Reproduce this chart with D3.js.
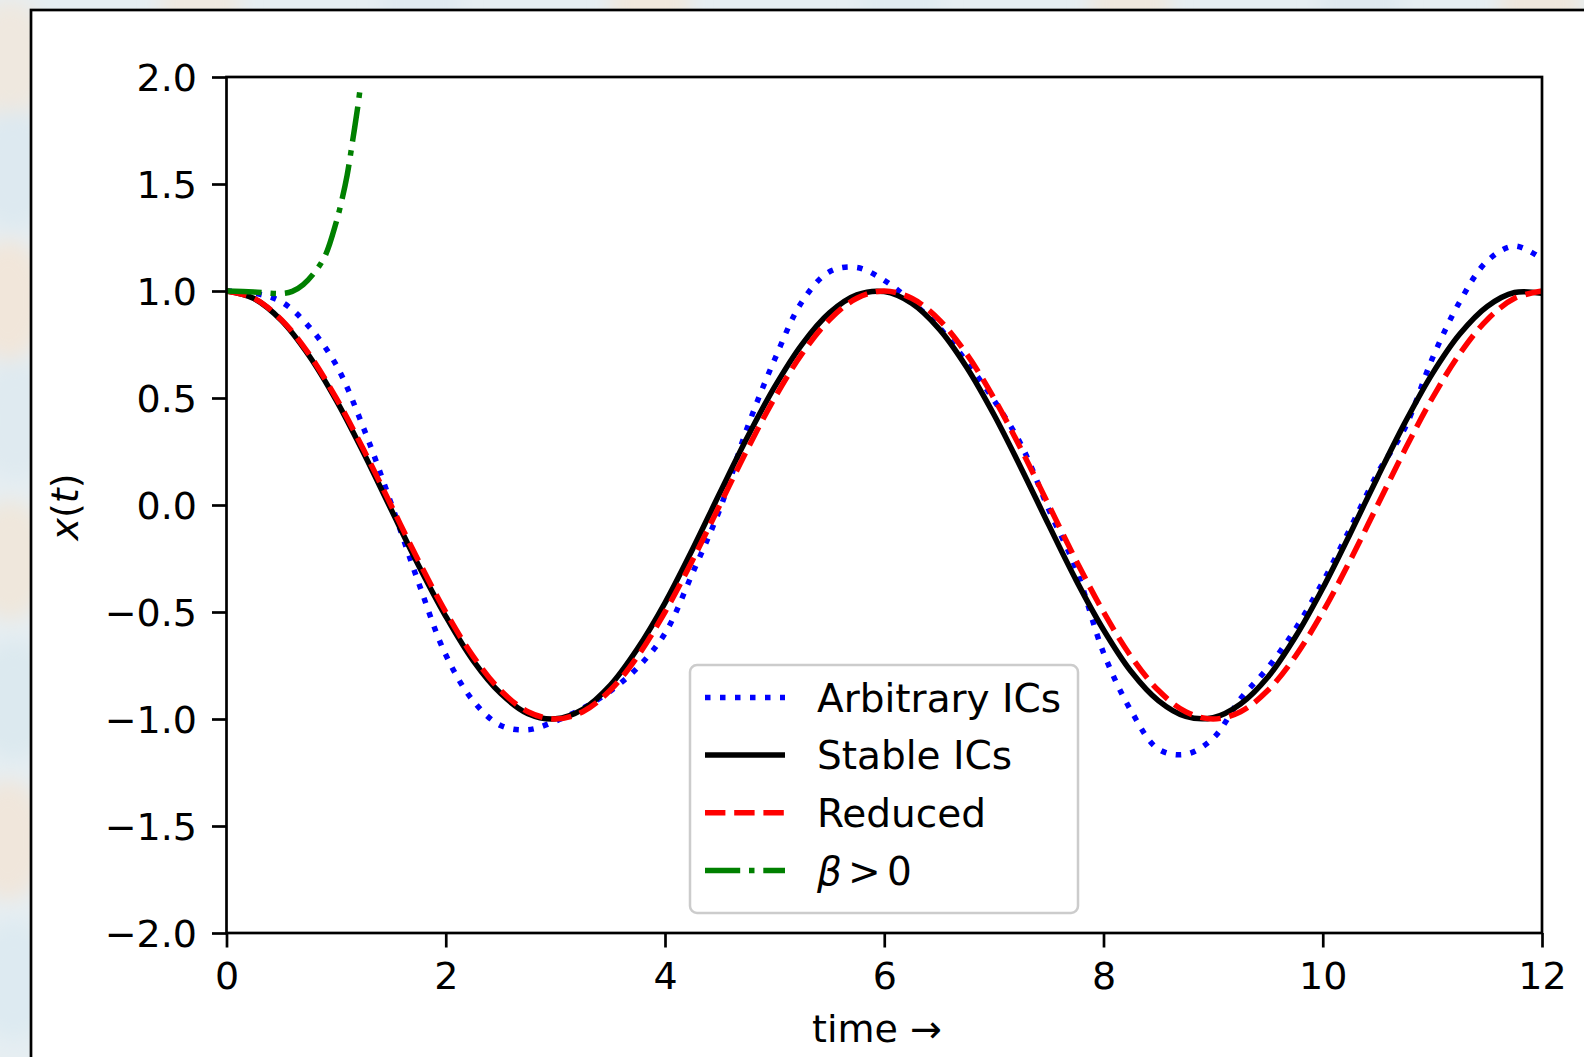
<!DOCTYPE html>
<html>
<head>
<meta charset="utf-8">
<script src="https://cdn.jsdelivr.net/npm/d3@7"></script>
<style>
  body { margin: 0; overflow: hidden; background: #e8eef1; }
  text { font-family: "DejaVu Sans", sans-serif; }
</style>
</head>
<body>
<script>
// time samples (x axis)
const times = [0, 0.25, 0.5, 0.75, 1, 1.25, 1.5, 1.75, 2, 2.25, 2.5, 2.75,
  3, 3.25, 3.5, 3.75, 4, 4.25, 4.5, 4.75, 5, 5.25, 5.5, 5.75,
  6, 6.25, 6.5, 6.75, 7, 7.25, 7.5, 7.75, 8, 8.25, 8.5, 8.75,
  9, 9.25, 9.5, 9.75, 10, 10.25, 10.5, 10.75, 11, 11.25, 11.5, 11.75, 12];

// Arbitrary ICs (blue dotted)
const arbitrary = [1.00, 0.99, 0.95, 0.835, 0.655, 0.36, 0.01, -0.36, -0.70, -0.915, -1.03, -1.05,
  -1.01, -0.95, -0.87, -0.76, -0.60, -0.32, -0.02, 0.36, 0.68, 0.95, 1.09, 1.11,
  1.05, 0.95, 0.83, 0.67, 0.49, 0.28, -0.02, -0.30, -0.69, -0.96, -1.14, -1.165,
  -1.09, -0.905, -0.76, -0.58, -0.36, -0.11, 0.148, 0.36, 0.685, 0.95, 1.14, 1.21, 1.15];

// Stable ICs (black solid)
const stable = [1.000, 0.965, 0.863, 0.700, 0.490, 0.244, -0.019, -0.280, -0.520, -0.727, -0.880, -0.975,
  -0.999, -0.955, -0.843, -0.671, -0.457, -0.208, 0.056, 0.315, 0.552, 0.751, 0.898, 0.982,
  0.997, 0.943, 0.823, 0.645, 0.423, 0.171, -0.093, -0.351, -0.583, -0.777, -0.914, -0.988,
  -0.994, -0.930, -0.804, -0.617, -0.389, -0.134, 0.130, 0.385, 0.614, 0.799, 0.928, 0.993, 0.989];

// Reduced (red dashed)
const reduced = [1.000, 0.966, 0.866, 0.707, 0.500, 0.259, 0.000, -0.259, -0.500, -0.707, -0.866, -0.966,
  -1.000, -0.966, -0.866, -0.707, -0.500, -0.259, 0.000, 0.259, 0.500, 0.707, 0.866, 0.966,
  1.000, 0.966, 0.866, 0.707, 0.500, 0.259, 0.000, -0.259, -0.500, -0.707, -0.866, -0.966,
  -1.000, -0.966, -0.866, -0.707, -0.500, -0.259, 0.000, 0.259, 0.500, 0.707, 0.866, 0.966, 1.000];

// beta > 0 (green dash-dot), only the short early part is visible
const betaTimes = [0, 0.25, 0.5, 0.6, 0.7, 0.8, 0.9, 1.0, 1.05, 1.1, 1.15, 1.2, 1.22];
const betaVals = [1.0, 0.995, 0.988, 0.998, 1.03, 1.085, 1.165, 1.32, 1.42, 1.54, 1.70, 1.87, 1.95];

const xTicks = [0, 2, 4, 6, 8, 10, 12];
const yTicks = [-2, -1.5, -1, -0.5, 0, 0.5, 1, 1.5, 2];
const yTickLabels = ["\u22122.0", "\u22121.5", "\u22121.0", "\u22120.5", "0.0", "0.5", "1.0", "1.5", "2.0"];

const seriesNames = ["Arbitrary ICs", "Stable ICs", "Reduced", "beta"];

const W = 1584, H = 1057;
const svg = d3.select("body").append("svg").attr("width", W).attr("height", H);

// blurry backdrop outside the white panel
const defs = svg.append("defs");
defs.append("filter").attr("id", "blur")
  .append("feGaussianBlur").attr("stdDeviation", 10);
defs.append("clipPath").attr("id", "plotclip")
  .append("rect").attr("x", 226.5).attr("y", 77).attr("width", 1315.5).attr("height", 856);

svg.append("rect").attr("width", W).attr("height", H).attr("fill", "#e6eef2");
const blobs = [
  [10, 60, "#efe8df"], [14, 170, "#dde9f0"], [8, 300, "#f1e6da"], [16, 420, "#dfeaf0"],
  [10, 560, "#efe7dc"], [14, 700, "#dce9ef"], [8, 840, "#f0e6db"], [14, 980, "#ddeaf1"],
  [200, 4, "#efe9e0"], [420, 4, "#e0eaf1"], [650, 4, "#f1e8dd"], [900, 4, "#e0ebf1"],
  [1130, 4, "#f0e8de"], [1360, 4, "#dfe9f0"], [1540, 4, "#f0e7dc"]
];
svg.append("g").attr("filter", "url(#blur)")
  .selectAll("ellipse").data(blobs).enter().append("ellipse")
  .attr("cx", d => d[0]).attr("cy", d => d[1])
  .attr("rx", 40).attr("ry", 60)
  .attr("fill", d => d[2]);

// white figure panel
svg.append("rect")
  .attr("x", 31).attr("y", 10).attr("width", 1600).attr("height", 1100)
  .attr("fill", "white").attr("stroke", "black").attr("stroke-width", 2.7);

const x = d3.scaleLinear().domain([0, 12]).range([226.5, 1542]);
const y = d3.scaleLinear().domain([-2, 2]).range([933, 77]);

const line = d3.line()
  .x(d => x(d[0]))
  .y(d => y(d[1]))
  .curve(d3.curveCatmullRom);

const plot = svg.append("g").attr("clip-path", "url(#plotclip)");

const lw = 5.5;
const styles = [
  { color: "#0000ff", dash: "5.5,9.5" },
  { color: "#000000", dash: null },
  { color: "#ff0000", dash: "20.4,8.8" },
  { color: "#008000", dash: "35.2,8.8,5.5,8.8" }
];

const seriesData = [
  times.map((t, i) => [t, arbitrary[i]]),
  times.map((t, i) => [t, stable[i]]),
  times.map((t, i) => [t, reduced[i]]),
  betaTimes.map((t, i) => [t, betaVals[i]])
];

seriesData.forEach((data, i) => {
  plot.append("path")
    .datum(data)
    .attr("d", line)
    .attr("fill", "none")
    .attr("stroke", styles[i].color)
    .attr("stroke-width", lw)
    .attr("stroke-dasharray", styles[i].dash);
});

// axes
const xAxis = svg.append("g")
  .attr("transform", "translate(0,933)")
  .call(d3.axisBottom(x).tickValues(xTicks).tickSize(14.5).tickPadding(14.5).tickFormat(d3.format("d")));
const yAxis = svg.append("g")
  .attr("transform", "translate(226.5,0)")
  .call(d3.axisLeft(y).tickValues(yTicks).tickSize(14.5).tickPadding(15)
    .tickFormat((d, i) => yTickLabels[i]));

[xAxis, yAxis].forEach(a => {
  a.select(".domain").remove();
  a.selectAll(".tick line").attr("stroke", "black").attr("stroke-width", 2.7);
  a.selectAll(".tick text").attr("fill", "black")
    .style("font-size", "38px").style("font-family", "DejaVu Sans");
});
yAxis.selectAll(".tick text").attr("dy", "0.36em");

// spines
svg.append("rect")
  .attr("x", 226.5).attr("y", 77).attr("width", 1315.5).attr("height", 856)
  .attr("fill", "none").attr("stroke", "black").attr("stroke-width", 2.7);

// axis labels
const yLab = svg.append("text")
  .attr("transform", "translate(78,507) rotate(-90)")
  .attr("text-anchor", "middle")
  .style("font-size", "38px");
yLab.append("tspan").attr("font-style", "italic").text("x");
yLab.append("tspan").text("(");
yLab.append("tspan").attr("font-style", "italic").text("t");
yLab.append("tspan").text(")");

svg.append("text")
  .attr("x", 877).attr("y", 1042)
  .attr("text-anchor", "middle")
  .style("font-size", "38px")
  .text("time \u2192");

// legend
const legend = svg.append("g");
legend.append("rect")
  .attr("x", 690).attr("y", 665).attr("width", 388).attr("height", 248)
  .attr("rx", 7)
  .attr("fill", "white").attr("fill-opacity", 0.8)
  .attr("stroke", "#cccccc").attr("stroke-width", 2.5);

const rowY = [697.5, 755, 812.7, 870.5];
seriesNames.forEach((name, i) => {
  legend.append("line")
    .attr("x1", 705).attr("x2", 785)
    .attr("y1", rowY[i]).attr("y2", rowY[i])
    .attr("stroke", styles[i].color)
    .attr("stroke-width", lw)
    .attr("stroke-dasharray", styles[i].dash);
  const t = legend.append("text")
    .attr("x", 817).attr("y", rowY[i] + 14)
    .style("font-size", "39px");
  if (name === "beta") {
    t.append("tspan").attr("font-style", "italic").text("\u03b2");
    t.append("tspan").attr("x", 848).text(">");
    t.append("tspan").attr("x", 887).text("0");
  } else {
    t.text(name);
  }
});
</script>
</body>
</html>
